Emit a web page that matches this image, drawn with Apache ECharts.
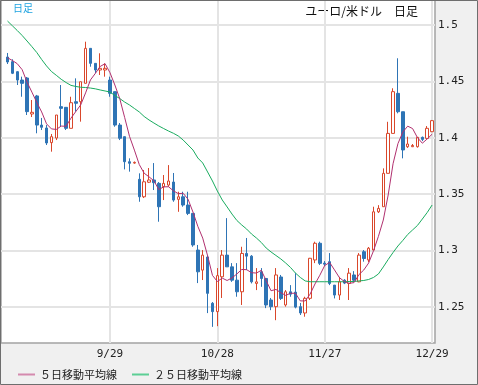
<!DOCTYPE html>
<html><head><meta charset="utf-8">
<script src="https://cdn.jsdelivr.net/npm/echarts@6/dist/echarts.min.js"></script>
<style>html,body{margin:0;padding:0;background:#f0f0f0}#c{width:478px;height:385px}</style>
</head><body><div id="c"></div>
<script>
const dates = ['8/29','9/1','9/2','9/3','9/4','9/5','9/8','9/9','9/10','9/11','9/12','9/15','9/16','9/17','9/18','9/19','9/22','9/23','9/24','9/25','9/26','9/29','9/30','10/1','10/2','10/3','10/5','10/6','10/7','10/8','10/9','10/10','10/13','10/14','10/15','10/16','10/17','10/20','10/21','10/22','10/23','10/24','10/27','10/28','10/29','10/30','10/31','11/3','11/4','11/5','11/6','11/7','11/10','11/11','11/12','11/13','11/14','11/17','11/18','11/19','11/20','11/21','11/24','11/25','11/26','11/27','11/28','12/1','12/2','12/3','12/4','12/5','12/8','12/9','12/10','12/11','12/12','12/15','12/16','12/17','12/18','12/19','12/22','12/23','12/24','12/25','12/26','12/29'];
const opens = [1.4716,1.4675,1.4586,1.4512,1.4530,1.4211,1.4371,1.4113,1.4087,1.3957,1.3998,1.4276,1.4270,1.4084,1.4320,1.4320,1.4483,1.4793,1.4660,1.4601,1.4601,1.4512,1.4409,1.4113,1.4010,1.3788,1.3776,1.3632,1.3477,1.3606,1.3626,1.3596,1.3567,1.3581,1.3608,1.3454,1.3477,1.3404,1.3330,1.3005,1.2827,1.2943,1.2533,1.2459,1.2768,1.2960,1.2856,1.2738,1.2635,1.2975,1.2951,1.2709,1.2812,1.2753,1.2562,1.2503,1.2766,1.2518,1.2635,1.2632,1.2503,1.2447,1.2577,1.2917,1.3065,1.2889,1.2902,1.2694,1.2606,1.2738,1.2709,1.2784,1.2723,1.2990,1.2917,1.3005,1.3344,1.3389,1.3685,1.4039,1.4394,1.4231,1.3921,1.3921,1.3921,1.4004,1.3995,1.4054];
const closes = [1.4672,1.4572,1.4512,1.4483,1.4232,1.4226,1.4113,1.4093,1.3954,1.4010,1.4202,1.4261,1.4084,1.4311,1.4306,1.4497,1.4793,1.4660,1.4601,1.4616,1.4616,1.4394,1.4113,1.3996,1.3788,1.3774,1.3782,1.3477,1.3610,1.3626,1.3602,1.3389,1.3596,1.3617,1.3448,1.3477,1.3404,1.3330,1.3050,1.2812,1.2960,1.2621,1.2459,1.2778,1.2960,1.2856,1.2738,1.2635,1.2975,1.2951,1.2723,1.2723,1.2753,1.2518,1.2503,1.2784,1.2576,1.2635,1.2614,1.2499,1.2447,1.2577,1.2932,1.3065,1.2887,1.2880,1.2709,1.2606,1.2723,1.2712,1.2800,1.2738,1.2960,1.2930,1.3021,1.3344,1.3374,1.3685,1.4039,1.4409,1.4231,1.3892,1.3945,1.3932,1.4004,1.3986,1.4084,1.4152];
const lows = [1.4654,1.4565,1.4468,1.4364,1.4202,1.4184,1.4040,1.4069,1.3936,1.3877,1.3980,1.4098,1.4069,1.4084,1.4231,1.4143,1.4483,1.4630,1.4572,1.4557,1.4542,1.4364,1.4098,1.3980,1.3720,1.3700,1.3770,1.3433,1.3466,1.3599,1.3537,1.3256,1.3448,1.3566,1.3433,1.3344,1.3389,1.3315,1.3034,1.2712,1.2739,1.2446,1.2324,1.2330,1.2580,1.2856,1.2723,1.2591,1.2518,1.2827,1.2709,1.2650,1.2679,1.2490,1.2472,1.2383,1.2562,1.2503,1.2591,1.2488,1.2429,1.2414,1.2562,1.2889,1.2872,1.2863,1.2694,1.2576,1.2562,1.2703,1.2562,1.2729,1.2720,1.2902,1.2899,1.3005,1.3333,1.3389,1.3685,1.4039,1.4217,1.3818,1.3910,1.3918,1.3913,1.3971,1.3989,1.4051];
const highs = [1.4752,1.4696,1.4590,1.4542,1.4539,1.4335,1.4380,1.4176,1.4113,1.4034,1.4202,1.4468,1.4272,1.4364,1.4527,1.4497,1.4852,1.4793,1.4660,1.4749,1.4660,1.4542,1.4409,1.4131,1.4010,1.3818,1.3790,1.3685,1.3714,1.3732,1.3776,1.3608,1.3670,1.3758,1.3688,1.3522,1.3522,1.3522,1.3333,1.3050,1.3005,1.2960,1.2544,1.2845,1.3005,1.3288,1.2889,1.2889,1.3034,1.3112,1.2960,1.2845,1.2845,1.2753,1.2580,1.2845,1.2784,1.2650,1.2694,1.2800,1.2536,1.2591,1.2935,1.3079,1.3079,1.2907,1.2978,1.2694,1.2767,1.2747,1.2845,1.2818,1.2978,1.3005,1.3032,1.3389,1.3403,1.3729,1.4142,1.4439,1.4705,1.4231,1.4010,1.3945,1.4007,1.4011,1.4104,1.4158];
const priorCloses = [1.4700,1.4650,1.4750,1.4780];
const ma25 = [1.5035,1.4993,1.4951,1.4907,1.4858,1.4808,1.4756,1.4694,1.4637,1.4588,1.4554,1.4519,1.4490,1.4465,1.4455,1.4448,1.4446,1.4441,1.4434,1.4424,1.4415,1.4406,1.4375,1.4348,1.4317,1.4291,1.4260,1.4229,1.4189,1.4158,1.4131,1.4105,1.4082,1.4060,1.4040,1.4016,1.3980,1.3936,1.3892,1.3821,1.3777,1.3697,1.3617,1.3528,1.3449,1.3387,1.3324,1.3267,1.3227,1.3191,1.3147,1.3112,1.3072,1.3023,1.2988,1.2957,1.2926,1.2890,1.2850,1.2801,1.2762,1.2731,1.2724,1.2724,1.2724,1.2724,1.2724,1.2724,1.2724,1.2724,1.2726,1.2726,1.2731,1.2735,1.2744,1.2762,1.2793,1.2855,1.2921,1.2983,1.3041,1.3090,1.3143,1.3183,1.3223,1.3280,1.3338,1.3404];
const xLabels = ['9/29','10/28','11/27','12/29'];
const yTicks = [1.25,1.3,1.35,1.4,1.45,1.5];
const yMin = 1.21809, yMax = 1.52216;
const nameMA5 = '５日移動平均線', nameMA25 = '２５日移動平均線';

const candles = opens.map((o,i)=>[o, closes[i], lows[i], highs[i]]);
const all = priorCloses.concat(closes);
const ma5 = closes.map((c,i)=>{let s=0; for(let k=0;k<5;k++) s+=all[i+4-k]; return +(s/5).toFixed(4);});

const chart = echarts.init(document.getElementById('c'), null, {renderer:'canvas'});
const showIdx = (idx, val) => xLabels.indexOf(val) >= 0;
chart.setOption({
  animation:false,
  backgroundColor:'#f0f0f0',
  grid:[
    {left:1, top:0, width:434, height:343, show:true, backgroundColor:'#ffffff', borderColor:'#a3a3a3', borderWidth:1.5},
    {left:7.5, top:0, width:424.6, height:343}
  ],
  xAxis:[
    {gridIndex:0, type:'value', min:0, max:1, show:false},
    {gridIndex:1, type:'category', data:dates, boundaryGap:false,
     axisLine:{show:false}, axisTick:{show:false},
     axisLabel:{interval:showIdx, margin:6, color:'#222', fontSize:11, fontFamily:'DejaVu Sans Mono'},
     splitLine:{show:true, interval:showIdx, lineStyle:{color:'#e4e4e4', width:2}}}
  ],
  yAxis:[
    {gridIndex:0, type:'value', min:yMin, max:yMax, position:'right',
     axisLine:{show:false}, axisTick:{show:false, customValues:yTicks},
     axisLabel:{customValues:yTicks, margin:3, color:'#222', fontSize:11, fontFamily:'DejaVu Sans Mono', formatter:v=>String(+v.toFixed(2))},
     splitLine:{show:true, lineStyle:{color:'#e4e4e4', width:2}}},
    {gridIndex:1, type:'value', min:yMin, max:yMax, show:false}
  ],
  legend:{left:13, top:364, icon:'rect', itemWidth:17, itemHeight:2, itemGap:15,
    textStyle:{fontSize:11, color:'#222', fontFamily:'Noto Sans CJK JP'},
    data:[{name:nameMA5, itemStyle:{color:'#d48aae'}},{name:nameMA25, itemStyle:{color:'#5ccf95'}}]},
  graphic:[
    {type:'text', left:13, top:3, style:{text:'日足', fill:'#1fa3e0', font:'10px "Noto Sans CJK JP"'}},
    {type:'text', right:60, top:5, style:{text:'ユーロ/米ドル　日足', fill:'#111', font:'12px "Noto Sans CJK JP"'}},
    {type:'rect', shape:{x:0.5, y:0.5, width:477, height:384}, style:{fill:'none', stroke:'#6e6e6e', lineWidth:1}, z:100, silent:true}
  ],
  series:[
    {type:'candlestick', xAxisIndex:1, yAxisIndex:1, data:candles, barWidth:3, clip:false,
     itemStyle:{color:'#ffffff', color0:'#2e74b5', borderColor:'#d9472b', borderColor0:'#2e74b5', borderWidth:1}},
    {type:'line', name:nameMA25, xAxisIndex:1, yAxisIndex:1, data:ma25, showSymbol:false, symbol:'none',
     lineStyle:{color:'#1aab5f', width:1}, itemStyle:{color:'#1aab5f'}, z:3},
    {type:'line', name:nameMA5, xAxisIndex:1, yAxisIndex:1, data:ma5, showSymbol:false, symbol:'none',
     lineStyle:{color:'#b0306f', width:1}, itemStyle:{color:'#b0306f'}, z:4}
  ]
});
</script></body></html>
